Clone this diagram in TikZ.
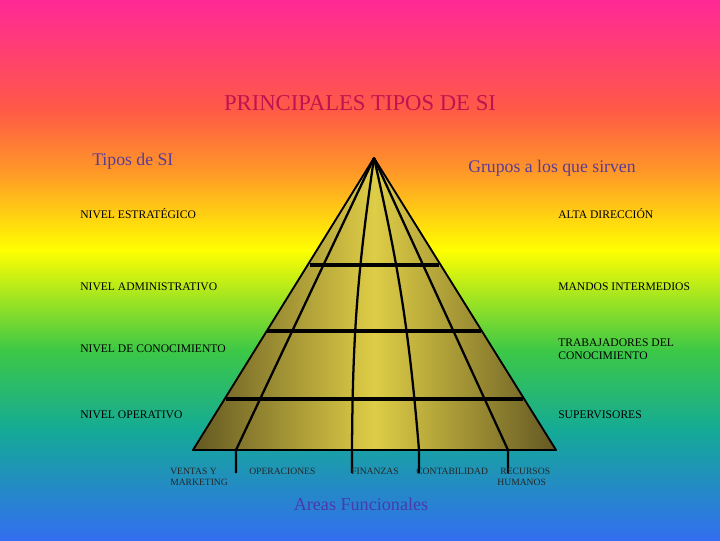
\documentclass[tikz,border=0pt]{standalone}
\usepackage{fontspec}
\setmainfont{Liberation Serif}
\begin{document}
\begin{tikzpicture}[x=0.75pt,y=-0.75pt,
  lab/.style={anchor=west,inner sep=0pt,font=\fontsize{8.7}{9.5}\selectfont,align=left},
  small/.style={anchor=north west,inner sep=0pt,font=\fontsize{7.2}{8}\selectfont,align=left,text=black!85},
  head/.style={inner sep=0pt,text={rgb,255:red,90;green,60;blue,150},font=\fontsize{13.3}{15}\selectfont},
  bar/.style={line width=2.6pt},
  ray/.style={line width=1.7pt}]
\definecolor{c0}{RGB}{255,40,150}
\definecolor{c1}{RGB}{255,90,70}
\definecolor{c2}{RGB}{255,150,40}
\definecolor{c3}{RGB}{255,255,0}
\definecolor{c4}{RGB}{60,200,70}
\definecolor{c5}{RGB}{20,170,150}
\definecolor{c6}{RGB}{50,110,240}
\useasboundingbox (0,0) rectangle (720,540);
\shade[top color=c0,bottom color=c1] (0,0) rectangle (720,110.5);
\shade[top color=c1,bottom color=c2] (0,110) rectangle (720,170.5);
\shade[top color=c2,bottom color=c3] (0,170) rectangle (720,250.5);
\shade[top color=c3,bottom color=c4] (0,250) rectangle (720,350.5);
\shade[top color=c4,bottom color=c5] (0,350) rectangle (720,430.5);
\shade[top color=c5,bottom color=c6] (0,430) rectangle (720,540);
% pyramid
\coordinate (apex) at (374,158);
\coordinate (bl) at (193,450);
\coordinate (br) at (556,450);
\shade[left color={rgb,255:red,100;green,88;blue,35},right color={rgb,255:red,100;green,88;blue,35},middle color={rgb,255:red,222;green,205;blue,70},draw=black,line width=1.4pt,line join=round]
  (apex) -- (br) -- (bl) -- cycle;
\coordinate (h1l) at (310,265); \coordinate (h1r) at (439,265);
\coordinate (h2l) at (267,331); \coordinate (h2r) at (481,331);
\coordinate (h3l) at (226,399); \coordinate (h3r) at (523,399);
\draw[bar] (h1l) -- (h1r);
\draw[bar] (h2l) -- (h2r);
\draw[bar] (h3l) -- (h3r);
\coordinate (r1) at (236,473); \coordinate (r2) at (352,473);
\coordinate (r3) at (419,473); \coordinate (r4) at (508,473);
\draw[ray] (apex) -- (236,450) -- (r1);
\draw[ray] (apex) to[bend right=4] (352,450) -- (r2);
\draw[ray] (apex) to[bend left=4] (419,450) -- (r3);
\draw[ray] (apex) -- (508,450) -- (r4);
% texts
\node[inner sep=0pt,text={rgb,255:red,190;green,20;blue,80},font=\fontsize{17}{19}\selectfont] (title) at (360,103) {PRINCIPALES TIPOS DE SI};
\node[head,anchor=west] (tipos) at (92,161) {Tipos de SI};
\node[head,anchor=west] (grupos) at (468,168) {Grupos a los que sirven};
\node[head,text={rgb,255:red,70;green,60;blue,170},font=\fontsize{13.6}{15}\selectfont] (areas) at (361,504) {Areas Funcionales};
\node[lab] (l1) at (80,214) {NIVEL ESTRATÉGICO};
\node[lab] (l2) at (80,287) {NIVEL ADMINISTRATIVO};
\node[lab] (l3) at (80,349) {NIVEL DE CONOCIMIENTO};
\node[lab] (l4) at (80,415) {NIVEL OPERATIVO};
\node[lab] (g1) at (558,214) {ALTA DIRECCIÓN};
\node[lab] (g2) at (558,287) {MANDOS INTERMEDIOS};
\node[lab] (g3) at (558,349) {TRABAJADORES DEL\\CONOCIMIENTO};
\node[lab] (g4) at (558,415) {SUPERVISORES};
\node[small] (a1) at (170,468) {VENTAS Y\\MARKETING};
\node[small] (a2) at (249,468) {OPERACIONES};
\node[small] (a3) at (351,468) {FINANZAS};
\node[small] (a4) at (416,468) {CONTABILIDAD};
\node[small,align=center] (a5) at (493,468) {\ \ \ RECURSOS\\HUMANOS};
\end{tikzpicture}
\end{document}
